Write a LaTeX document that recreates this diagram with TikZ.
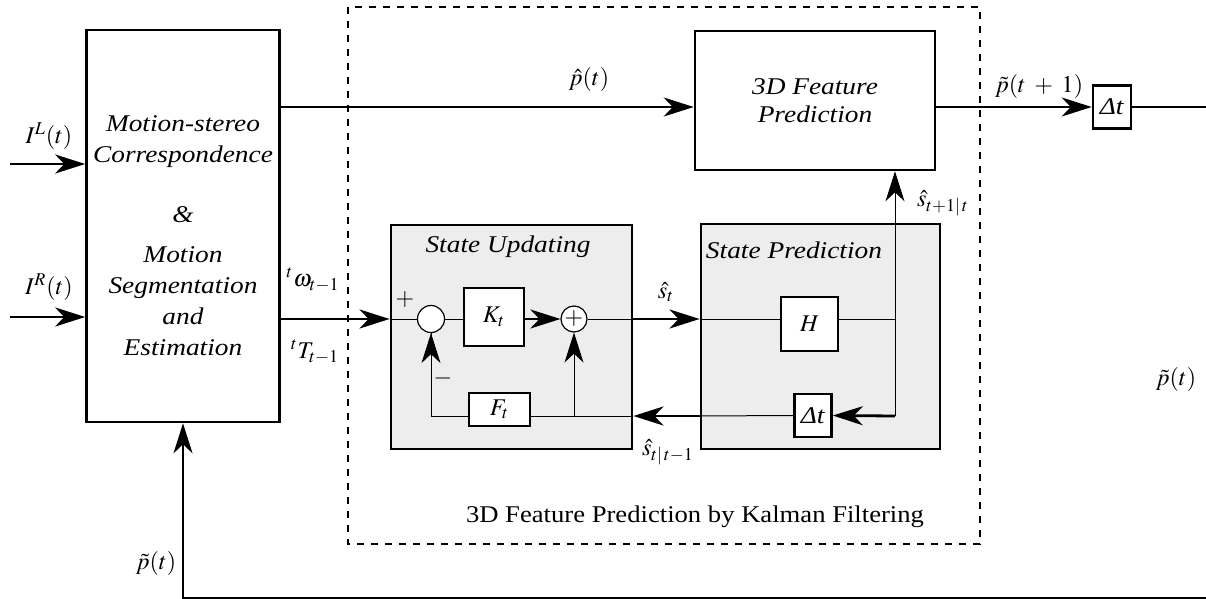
\documentclass[tikz,border=0pt]{standalone}
\usepackage{mathptmx}
\usepackage{fontspec}
\setmainfont{Liberation Serif}[FakeStretch=1.11, ItalicFeatures={FakeStretch=1.14}]
\usepackage{tikz}
\usetikzlibrary{arrows.meta}
\tikzset{
    %Define standard arrow tip
    >={Stealth[length=15pt,width=9.5pt,inset=4.5pt]},
    %Define style for boxes
    bigrect/.style={
           rectangle,
           draw=black, line width=1.3pt,
           align=center,
           fill=white},
    greyrect/.style={
           rectangle,
           draw=black, line width=1.4pt,
           fill=black!7},
    smallrect/.style={
           rectangle,
           draw=black, line width=1.3pt,
           fill=white,
           inner sep=0pt},
    punkt/.style={
           circle,
           draw=black, line width=0.6pt,
           fill=white,
           minimum size=13.5pt,
           inner sep=0pt},
    % Define arrow style
    pil/.style={
           ->,
           line width=1.4pt},
    tynd/.style={
           line width=0.5pt},
    lbl/.style={
           inner sep=0pt}
}
\begin{document}
\fontsize{12pt}{15.5pt}\selectfont
\begin{tikzpicture}[x=0.5pt,y=-0.5pt]
\useasboundingbox (0,0) rectangle (1206,599);
\coordinate (ph) at (0,107);
\coordinate (mn) at (0,319);
\coordinate (fb) at (895,416);
\coordinate (lo) at (0,598);
\coordinate (inl) at (10,164);
\coordinate (inr) at (10,317);
\coordinate (rt) at (1206,107);
\coordinate (rb) at (1206,598);
% kalman filter frame
\draw[line width=1.3pt, dash pattern=on 3.5pt off 3.5pt] (348,7) rectangle (980,544);
\node[lbl] (13) at (695,517) {3D Feature Prediction by Kalman Filtering};
% blocks
\node[bigrect, minimum width=96.5pt, minimum height=196pt] (1) at (183,226) {};
\node[lbl, align=center, font=\itshape] (2) at (183,236) {Motion-stereo\\Correspondence\\[14.5pt]\&\\[4.5pt]Motion\\Segmentation\\and\\Estimation};
\node[bigrect, font=\itshape, minimum width=120pt, minimum height=69.5pt] (3) at (815,100.5) {3D Feature\\[-1.5pt]Prediction};
\node[smallrect, minimum width=19pt, minimum height=21.5pt] (4) at (1112,107) {\textit{Δt}};
\node[greyrect, minimum width=120.5pt, minimum height=112pt] (5) at (511.5,337) {};
\node[greyrect, minimum width=119.5pt, minimum height=112.5pt] (6) at (820.5,336.5) {};
\node[lbl, font=\itshape] at (508,247) {State Updating};
\node[lbl, font=\itshape] at (794,250) {State Prediction};
\node[punkt] (7) at (431,319) {};
\node[smallrect, minimum width=30pt, minimum height=29pt] (8) at (494,317) {$K_t$};
\node[punkt, minimum size=13pt] (9) at (574,319) {$+$};
\node[smallrect, minimum width=28.5pt, minimum height=27pt] (10) at (809.5,324) {$H$};
\node[smallrect, minimum width=18.5pt, minimum height=21.5pt] (11) at (813,415.5) {\textit{Δt}};
\node[smallrect, minimum width=30.5pt, minimum height=16.5pt] (12) at (499.5,409.5) {$F_t$};
% labels
\node[lbl] at (49,136) {$I^{L}(t)$};
\node[lbl] at (49,287) {$I^{R}(t)$};
\node[lbl] at (589,80) {$\hat{p}(t)$};
\node[lbl] at (313,280) {${}^{t}\omega_{t-1}$};
\node[lbl] at (315,352) {${}^{t}T_{t-1}$};
\node[lbl] at (666,292) {$\hat{s}_{t}$};
\node[lbl] at (668,452) {$\hat{s}_{t|\,t-1}$};
\node[lbl] at (943,203) {$\hat{s}_{t+1|\,t}$};
\node[lbl] at (1039,87) {$\tilde{p}(t\;+\;1)$};
\node[lbl] at (1176,379) {$\tilde{p}(t)$};
\node[lbl] at (156,563) {$\tilde{p}(t)$};
\node[lbl] at (405,300) {$+$};
\node[lbl] at (443,378) {$-$};
% inputs and outputs
\draw[pil] (inl) -- (1.west |- inl);
\draw[pil] (inr) -- (1.west |- inr);
\draw[pil] (1.east |- ph) -- (3.west |- ph);
\draw[pil] (1.east |- mn) -- (5.west |- mn);
\draw[->, line width=1pt] (3.east |- ph) -- (4.west);
\draw[line width=1pt] (4.east) -- (rt);
\draw[->, line width=1pt] (rb) -- (1.south |- lo) -- (1.south);
% state updating
\draw[tynd] (5.west |- mn) -- (7) (8.west |- mn) -- (7);
\draw[pil] (8.east |- mn) -- (9);
\draw[tynd] (9) -- (5.east |- mn);
\draw[tynd] (5.east |- fb) -- (12.east |- fb) (12.west |- fb) -| (7.south);
\draw[tynd, ->] (7.south |- fb) -- (7.south);
\draw[tynd, ->] (9.south |- fb) -- (9.south);
% state prediction
\draw[pil] (5.east |- mn) -- (6.west |- mn);
\draw[tynd] (6.west |- mn) -- (10.west |- mn) (10.east |- mn) -- (fb |- mn);
\draw[tynd, ->] (fb) -- (3.south -| fb);
\draw[pil] (fb) -- (11.east);
\draw[tynd] (11.west) -- (6.west |- fb);
\draw[pil] (6.west |- fb) -- (5.east |- fb);
\end{tikzpicture}
\end{document}
